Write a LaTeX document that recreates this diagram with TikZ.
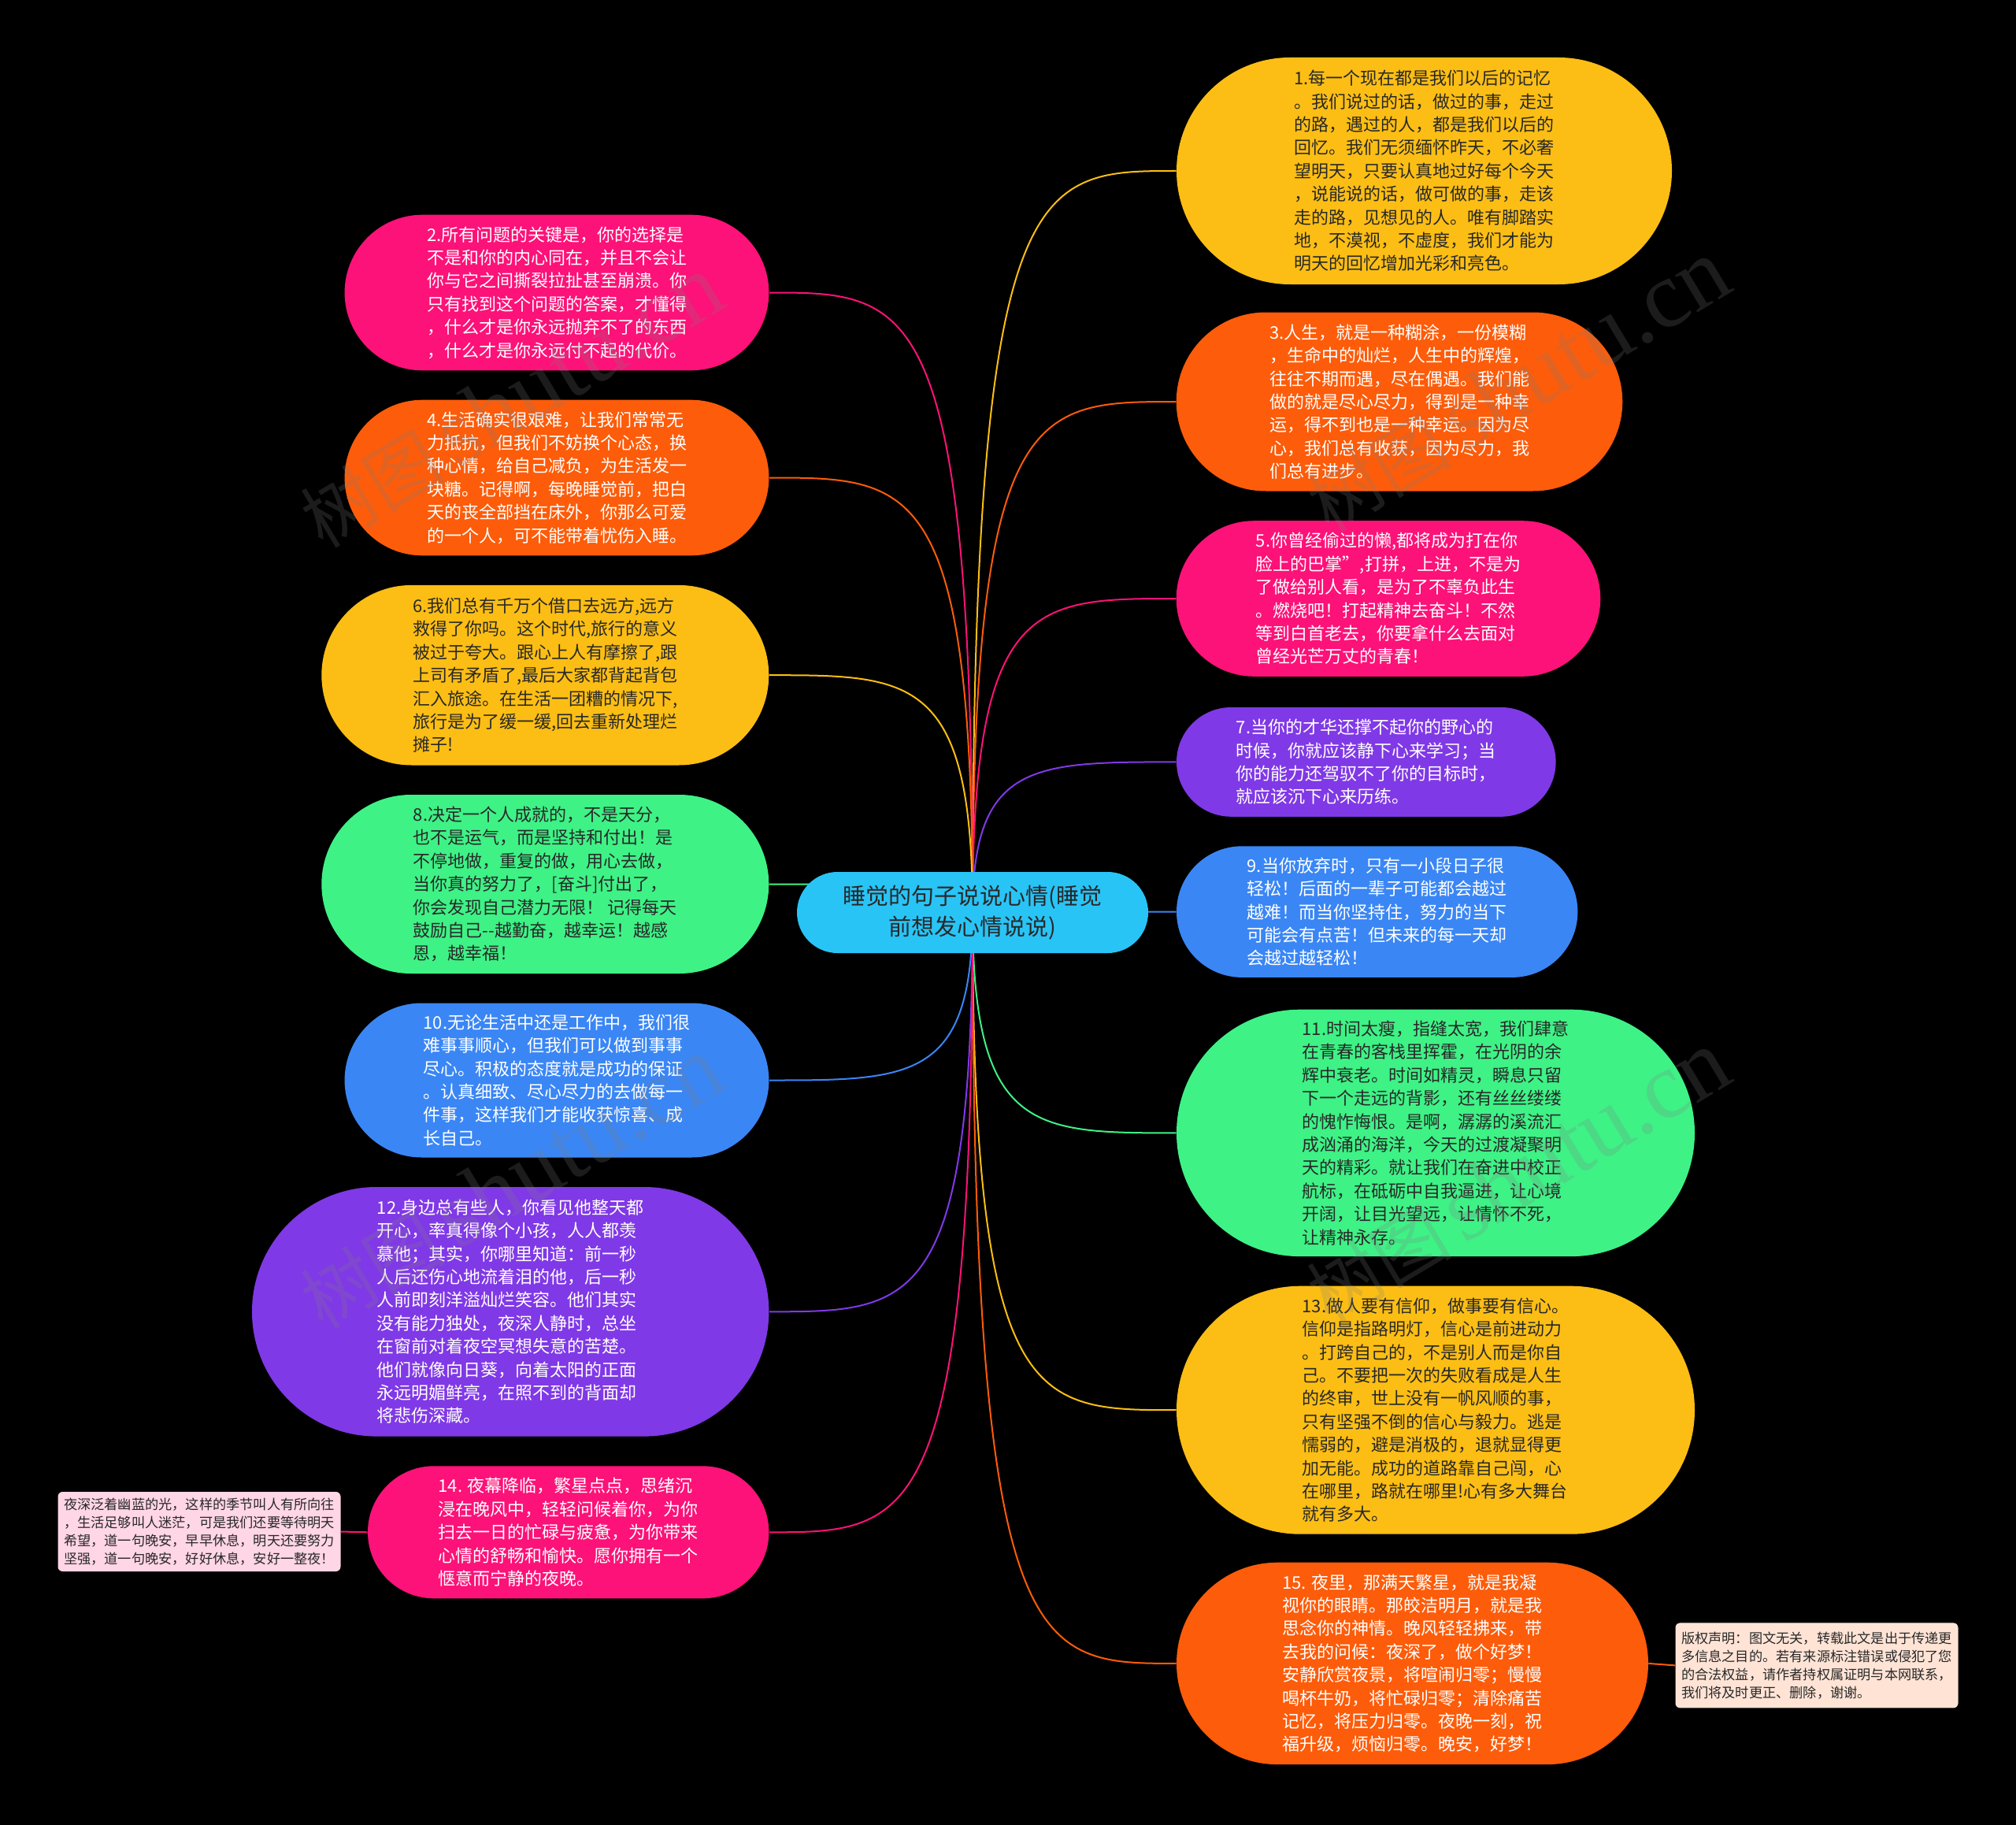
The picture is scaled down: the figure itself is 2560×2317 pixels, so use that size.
\documentclass[tikz,border=0pt]{standalone}
\usepackage{fontspec}
\setmainfont{Noto Sans CJK SC}
\newfontfamily\wmserif{Liberation Serif}
\usetikzlibrary{shapes.misc,calc}
\definecolor{cyellow}{RGB}{252,190,20}
\definecolor{cpink}{RGB}{252,18,120}
\definecolor{corange}{RGB}{253,92,10}
\definecolor{cpurple}{RGB}{128,57,230}
\definecolor{cgreen}{RGB}{62,242,134}
\definecolor{cblue}{RGB}{58,134,245}
\definecolor{ccyan}{RGB}{40,196,246}
\definecolor{cdark}{RGB}{40,40,40}
\definecolor{cnotepink}{RGB}{255,214,230}
\definecolor{cnotepeach}{RGB}{255,228,214}
\pgfdeclarelayer{bg}
\pgfsetlayers{bg,main}
\tikzset{
  leaf/.style={rounded rectangle, inner sep=0pt, align=left,
    font=\fontsize{11pt}{14.7pt}\selectfont},
  darktxt/.style={text=cdark},
  lighttxt/.style={text=white},
  notebox/.style={rectangle, rounded corners=3pt, inner sep=0pt, align=left,
    text=cdark, font=\fontsize{8.6pt}{11.45pt}\selectfont},
  conn/.style={line width=1pt},
  wmark/.style={text=gray, opacity=0.22, rotate=31, inner sep=0pt}
}
\newcommand\edgeto[2]{%
  \coordinate (tmpk) at (root.center |- #2);
  \draw[conn, draw=#1] (root.center) .. controls (tmpk) and ($(tmpk)!0.3!(#2)$) .. (#2);}
\begin{document}
\begin{tikzpicture}[x=0.5pt,y=-0.5pt]
\useasboundingbox (0,0) rectangle (2560,2317);

% root
\node[rounded rectangle, inner sep=0pt, fill=ccyan, text=cdark, align=center,
  minimum width=223pt, minimum height=51.5pt,
  font=\fontsize{14.5pt}{19.5pt}\selectfont] (root) at (1235,1158.5)
  {睡觉的句子说说心情(睡觉\\前想发心情说说)};

% right side
\node[leaf, darktxt, fill=cyellow, minimum width=314.5pt, minimum height=144pt] (n1) at (1808.5,217) {%
1.每一个现在都是我们以后的记忆\\
。我们说过的话，做过的事，走过\\
的路，遇过的人，都是我们以后的\\
回忆。我们无须缅怀昨天，不必奢\\
望明天，只要认真地过好每个今天\\
，说能说的话，做可做的事，走该\\
走的路，见想见的人。唯有脚踏实\\
地，不漠视，不虚度，我们才能为\\
明天的回忆增加光彩和亮色。};

\node[leaf, lighttxt, fill=corange, minimum width=283.3pt, minimum height=113.5pt] (n3) at (1777,510) {%
3.人生，就是一种糊涂，一份模糊\\
，生命中的灿烂，人生中的辉煌，\\
往往不期而遇，尽在偶遇。我们能\\
做的就是尽心尽力，得到是一种幸\\
运，得不到也是一种幸运。因为尽\\
心，我们总有收获，因为尽力，我\\
们总有进步。};

\node[leaf, lighttxt, fill=cpink, minimum width=269.3pt, minimum height=98.8pt] (n5) at (1763,760) {%
5.你曾经偷过的懒,都将成为打在你\\
脸上的巴掌",打拼，上进，不是为\\
了做给别人看，是为了不辜负此生\\
。燃烧吧！打起精神去奋斗！不然\\
等到白首老去，你要拿什么去面对\\
曾经光芒万丈的青春！};

\node[leaf, lighttxt, fill=cpurple, minimum width=240.8pt, minimum height=69.4pt] (n7) at (1734.8,967.4) {%
7.当你的才华还撑不起你的野心的\\
时候，你就应该静下心来学习；当\\
你的能力还驾驭不了你的目标时，\\
就应该沉下心来历练。};

\node[leaf, lighttxt, fill=cblue, minimum width=254.7pt, minimum height=83.3pt] (n9) at (1748.7,1157.6) {%
9.当你放弃时，只有一小段日子很\\
轻松！后面的一辈子可能都会越过\\
越难！而当你坚持住，努力的当下\\
可能会有点苦！但未来的每一天却\\
会越过越轻松！};

\node[leaf, darktxt, fill=cgreen, minimum width=329pt, minimum height=156.7pt] (n11) at (1823,1438.4) {%
11.时间太瘦，指缝太宽，我们肆意\\
在青春的客栈里挥霍，在光阴的余\\
辉中衰老。时间如精灵，瞬息只留\\
下一个走远的背影，还有丝丝缕缕\\
的愧怍悔恨。是啊，潺潺的溪流汇\\
成汹涌的海洋，今天的过渡凝聚明\\
天的精彩。就让我们在奋进中校正\\
航标，在砥砺中自我逼进，让心境\\
开阔，让目光望远，让情怀不死，\\
让精神永存。};

\node[leaf, darktxt, fill=cyellow, minimum width=329pt, minimum height=157.5pt] (n13) at (1823,1790.2) {%
13.做人要有信仰，做事要有信心。\\
信仰是指路明灯，信心是前进动力\\
。打跨自己的，不是别人而是你自\\
己。不要把一次的失败看成是人生\\
的终审，世上没有一帆风顺的事，\\
只有坚强不倒的信心与毅力。逃是\\
懦弱的，避是消极的，退就显得更\\
加无能。成功的道路靠自己闯，心\\
在哪里，路就在哪里!心有多大舞台\\
就有多大。};

\node[leaf, lighttxt, fill=corange, minimum width=299.5pt, minimum height=128.2pt] (n15) at (1793.5,2111.9) {%
15. 夜里，那满天繁星，就是我凝\\
视你的眼睛。那皎洁明月，就是我\\
思念你的神情。晚风轻轻拂来，带\\
去我的问候：夜深了，做个好梦！\\
安静欣赏夜景，将喧闹归零；慢慢\\
喝杯牛奶，将忙碌归零；清除痛苦\\
记忆，将压力归零。夜晚一刻，祝\\
福升级，烦恼归零。晚安，好梦！};

% left side
\node[leaf, lighttxt, fill=cpink, minimum width=269.4pt, minimum height=98.8pt] (n2) at (707,371.5) {%
2.所有问题的关键是，你的选择是\\
不是和你的内心同在，并且不会让\\
你与它之间撕裂拉扯甚至崩溃。你\\
只有找到这个问题的答案，才懂得\\
，什么才是你永远抛弃不了的东西\\
，什么才是你永远付不起的代价。};

\node[leaf, lighttxt, fill=corange, minimum width=269.4pt, minimum height=98.8pt] (n4) at (707,606.5) {%
4.生活确实很艰难，让我们常常无\\
力抵抗，但我们不妨换个心态，换\\
种心情，给自己减负，为生活发一\\
块糖。记得啊，每晚睡觉前，把白\\
天的丧全部挡在床外，你那么可爱\\
的一个人，可不能带着忧伤入睡。};

\node[leaf, darktxt, fill=cyellow, minimum width=284pt, minimum height=114.3pt] (n6) at (692.3,857.2) {%
6.我们总有千万个借口去远方,远方\\
救得了你吗。这个时代,旅行的意义\\
被过于夸大。跟心上人有摩擦了,跟\\
上司有矛盾了,最后大家都背起背包\\
汇入旅途。在生活一团糟的情况下,\\
旅行是为了缓一缓,回去重新处理烂\\
摊子!};

\node[leaf, darktxt, fill=cgreen, minimum width=284pt, minimum height=113.5pt] (n8) at (692.3,1122.5) {%
8.决定一个人成就的，不是天分，\\
也不是运气，而是坚持和付出！是\\
不停地做，重复的做，用心去做，\\
当你真的努力了，[奋斗]付出了，\\
你会发现自己潜力无限！ 记得每天\\
鼓励自己-{}-越勤奋，越幸运！越感\\
恩，越幸福！};

\node[leaf, lighttxt, fill=cblue, minimum width=269.4pt, minimum height=98pt] (n10) at (707,1371.5) {%
10.无论生活中还是工作中，我们很\\
难事事顺心，但我们可以做到事事\\
尽心。积极的态度就是成功的保证\\
。认真细致、尽心尽力的去做每一\\
件事，这样我们才能收获惊喜、成\\
长自己。};

\node[leaf, lighttxt, fill=cpurple, minimum width=328.2pt, minimum height=158.3pt] (n12) at (648.2,1665.3) {%
12.身边总有些人，你看见他整天都\\
开心，率真得像个小孩，人人都羡\\
慕他；其实，你哪里知道：前一秒\\
人后还伤心地流着泪的他，后一秒\\
人前即刻洋溢灿烂笑容。他们其实\\
没有能力独处，夜深人静时，总坐\\
在窗前对着夜空冥想失意的苦楚。\\
他们就像向日葵，向着太阳的正面\\
永远明媚鲜亮，在照不到的背面却\\
将悲伤深藏。};

\node[leaf, lighttxt, fill=cpink, minimum width=254.7pt, minimum height=84pt] (n14) at (721.7,1945.3) {%
14. 夜幕降临，繁星点点，思绪沉\\
浸在晚风中，轻轻问候着你，为你\\
扫去一日的忙碌与疲惫，为你带来\\
心情的舒畅和愉快。愿你拥有一个\\
惬意而宁静的夜晚。};

% notes
\node[notebox, fill=cnotepink, minimum width=179.5pt, minimum height=50.5pt] (ln) at (253,1944.5) {%
夜深泛着幽蓝的光，这样的季节叫人有所向往\\
，生活足够叫人迷茫，可是我们还要等待明天\\
希望，道一句晚安，早早休息，明天还要努力\\
坚强，道一句晚安，好好休息，安好一整夜！};

\node[notebox, fill=cnotepeach, minimum width=179.5pt, minimum height=54pt] (rn) at (2307,2114.4) {%
版权声明：图文无关，转载此文是出于传递更\\
多信息之目的。若有来源标注错误或侵犯了您\\
的合法权益，请作者持权属证明与本网联系，\\
我们将及时更正、删除，谢谢。};

% watermarks
\node[wmark] (w1) at (649,510) {\fontsize{46pt}{46pt}\selectfont 树图\,{\wmserif\fontsize{60pt}{60pt}\selectfont shutu.cn}};
\node[wmark] (w2) at (1927,490) {\fontsize{46pt}{46pt}\selectfont 树图\,{\wmserif\fontsize{60pt}{60pt}\selectfont shutu.cn}};
\node[wmark] (w3) at (649,1502) {\fontsize{46pt}{46pt}\selectfont 树图\,{\wmserif\fontsize{60pt}{60pt}\selectfont shutu.cn}};
\node[wmark] (w4) at (1927,1494) {\fontsize{46pt}{46pt}\selectfont 树图\,{\wmserif\fontsize{60pt}{60pt}\selectfont shutu.cn}};

\begin{pgfonlayer}{bg}
  \fill[black] (0,0) rectangle (2560,2317);
  \edgeto{cyellow}{n1.west}
  \edgeto{corange}{n3.west}
  \edgeto{cpink}{n5.west}
  \edgeto{cpurple}{n7.west}
  \edgeto{cblue}{n9.west}
  \edgeto{cgreen}{n11.west}
  \edgeto{cyellow}{n13.west}
  \edgeto{corange}{n15.west}
  \edgeto{cpink}{n2.east}
  \edgeto{corange}{n4.east}
  \edgeto{cyellow}{n6.east}
  \edgeto{cgreen}{n8.east}
  \edgeto{cblue}{n10.east}
  \edgeto{cpurple}{n12.east}
  \edgeto{cpink}{n14.east}
  \draw[conn, draw=cpink] (n14.west) -- (ln.east);
  \draw[conn, draw=corange] (n15.east) -- (rn.west);
\end{pgfonlayer}
\end{tikzpicture}
\end{document}
